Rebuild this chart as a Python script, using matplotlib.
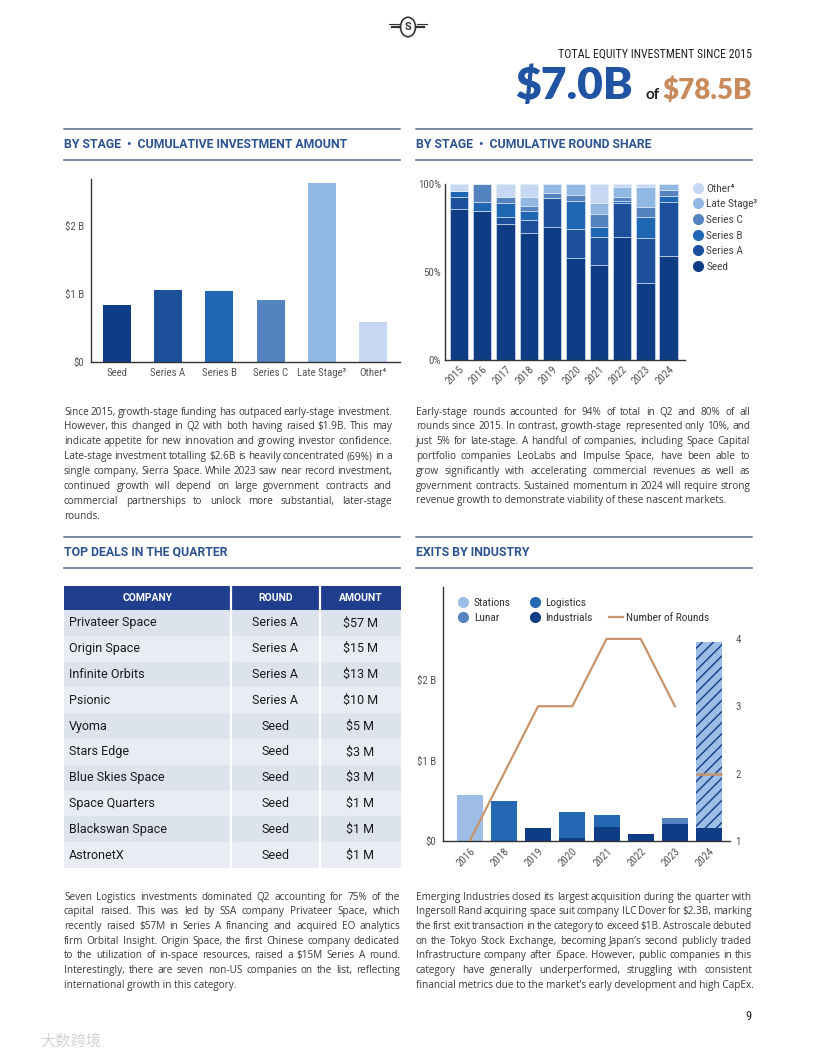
import matplotlib
matplotlib.use('Agg')
import matplotlib.pyplot as plt
from matplotlib.patches import Rectangle, Circle
from matplotlib.lines import Line2D
import numpy as np

W, H = 816, 1056

# --- data ---------------------------------------------------------------
stages = ['Seed', 'Series A', 'Series B', 'Series C', 'Late Stage³', 'Other⁴']
stage_amount = [0.84, 1.06, 1.04, 0.91, 2.62, 0.58]   # $B

years = ['2015', '2016', '2017', '2018', '2019', '2020', '2021', '2022', '2023', '2024']
seed_pct = [85.6, 84.8, 77.3, 72.0, 75.8, 58.1, 54.2, 69.7, 43.9, 59.1]
a_pct = [7.2, 0.0, 3.8, 7.5, 16.3, 16.1, 15.9, 19.3, 25.2, 30.9]
b_pct = [3.4, 5.2, 8.0, 5.3, 0.0, 16.3, 5.7, 1.2, 12.0, 3.2]
c_pct = [0.0, 10.0, 3.4, 2.7, 2.7, 3.2, 7.0, 2.6, 6.0, 3.4]
late_pct = [0.0, 0.0, 0.0, 4.9, 5.3, 6.2, 6.6, 5.7, 11.4, 3.4]
other_pct = [3.8, 0.0, 7.5, 7.6, 0.0, 0.0, 10.6, 1.5, 1.5, 0.0]

companies = ['Privateer Space', 'Origin Space', 'Infinite Orbits', 'Psionic', 'Vyoma',
             'Stars Edge', 'Blue Skies Space', 'Space Quarters', 'Blackswan Space', 'AstronetX']
rounds_name = ['Series A'] * 4 + ['Seed'] * 6
amounts = ['$57 M', '$15 M', '$13 M', '$10 M', '$5 M', '$3 M', '$3 M', '$1 M', '$1 M', '$1 M']

exit_years = ['2016', '2018', '2019', '2020', '2021', '2022', '2023', '2024']
industrials = [0, 0, 0.157, 0.04, 0.178, 0.087, 0.207, 0.157]
logistics = [0, 0.50, 0, 0.315, 0.145, 0, 0, 0]
lunar = [0, 0, 0, 0, 0, 0, 0.074, 0]
stations = [0.57, 0, 0, 0, 0, 0, 0, 2.32]
n_rounds = [1, 2, 3, 3, 4, 4, 3, 2]

# --- style ---------------------------------------------------------------
navy = '#0f3d85'
c_seed, c_a, c_b, c_c, c_late, c_other = navy, '#1c4f9c', '#2067b3', '#5483bf', '#91b7e3', '#c6d8f2'
head_blue = '#2b5392'
rule = '#56698a'
tan = '#c8946b'
body = '#3a3a3a'
cond = ['Roboto Condensed', 'Liberation Sans Narrow', 'DejaVu Sans']
sans = ['Open Sans', 'DejaVu Sans']

plt.rcParams['font.family'] = ['Roboto', 'DejaVu Sans']

fig = plt.figure(figsize=(W / 100, H / 100), dpi=100)


def fx(x):
    return x / W


def fy(y):
    return 1 - y / H


def axes_px(x0, y0, x1, y1):
    return fig.add_axes([fx(x0), fy(y1), (x1 - x0) / W, (y1 - y0) / H])


def section(title, x0, x1, y_text, y_top, y_bot):
    fig.add_artist(Line2D([fx(x0), fx(x1)], [fy(y_top)] * 2, color=rule, lw=1.1))
    fig.add_artist(Line2D([fx(x0), fx(x1)], [fy(y_bot)] * 2, color=rule, lw=1.1))
    fig.text(fx(x0), fy(y_text), title, color=head_blue, fontsize=8.8, weight='bold',
             va='center', ha='left')


def justify(lines, x0, x1, y0, dy, size=7.2):
    # y0 is the centre of the first line; text is set on a shared baseline
    r = fig.canvas.get_renderer()
    for i, line in enumerate(lines):
        y = fy(y0 + i * dy + 3.6)
        if i == len(lines) - 1:
            fig.text(fx(x0), y, line, fontsize=size, color=body, va='baseline', family=sans)
            continue
        words = line.split(' ')
        texts = [fig.text(0, y, w, fontsize=size, color=body, va='baseline', family=sans)
                 for w in words]
        widths = [t.get_window_extent(r).width for t in texts]
        gap = (x1 - x0 - sum(widths)) / (len(words) - 1)
        x = x0
        for t, w in zip(texts, widths):
            t.set_x(fx(x))
            x += w + gap


# --- page header ---------------------------------------------------------
fig.add_artist(Line2D([fx(392), fx(400)], [fy(27)] * 2, color='#333', lw=1.6))
fig.add_artist(Line2D([fx(416), fx(424)], [fy(27)] * 2, color='#333', lw=1.6))
fig.add_artist(Line2D([fx(389), fx(399)], [fy(24)] * 2, color='#333', lw=0.8))
fig.add_artist(Line2D([fx(417), fx(427)], [fy(24)] * 2, color='#333', lw=0.8))
fig.add_artist(Circle((fx(408), fy(27)), 7.5 / W, transform=fig.transFigure,
                      fill=False, ec='#333', lw=1.2))
fig.text(fx(408), fy(27.5), 'S', fontsize=8, weight='bold', ha='center', va='center', color='#333')

fig.text(fx(752), fy(54), 'TOTAL EQUITY INVESTMENT SINCE 2015', fontsize=8.6, ha='right',
         va='center', color='#222', family=cond)
fig.text(fx(633), fy(99), '$7.0B', fontsize=32, weight='heavy', ha='right', va='baseline',
         color='#2054a3', family=['Lato', 'DejaVu Sans'])
fig.text(fx(645), fy(99), 'of', fontsize=11, weight='bold', ha='left', va='baseline',
         color='#222', family=['Lato', 'DejaVu Sans'])
fig.text(fx(752), fy(99), '$78.5B', fontsize=20, weight='heavy', ha='right', va='baseline',
         color='#c98b5b', family=['Lato', 'DejaVu Sans'])

# --- section headers -----------------------------------------------------
section('BY STAGE  •  CUMULATIVE INVESTMENT AMOUNT', 64, 400, 144, 129, 160)
section('BY STAGE  •  CUMULATIVE ROUND SHARE', 416, 752, 144, 129, 160)
section('TOP DEALS IN THE QUARTER', 64, 400, 552, 537, 568)
section('EXITS BY INDUSTRY', 416, 752, 552, 537, 568)


def clean(ax):
    for s in ['top', 'right']:
        ax.spines[s].set_visible(False)
    for s in ['left', 'bottom']:
        ax.spines[s].set_color('#333')
        ax.spines[s].set_linewidth(1)
    ax.tick_params(length=0, labelsize=7.8, labelcolor='#555')
    for lab in ax.get_xticklabels() + ax.get_yticklabels():
        lab.set_family(cond)


# --- chart 1: cumulative investment amount -------------------------------
ax1 = axes_px(91, 179, 400, 362)
x1 = np.arange(len(stages))
ax1.bar(x1, stage_amount, width=0.55,
        color=[c_seed, c_a, c_b, c_c, c_late, c_other])
ax1.set_xlim(-0.5, 5.52)
ax1.set_ylim(0, 2.68)
ax1.set_xticks(x1)
ax1.set_xticklabels(stages)
ax1.set_yticks([0, 1, 2])
ax1.set_yticklabels(['$0', '$1 B', '$2 B'])
clean(ax1)
ax1.tick_params(axis='y', pad=5)
ax1.tick_params(axis='x', pad=4)

# --- chart 2: round share ------------------------------------------------
ax2 = axes_px(445, 184, 685, 360)
x2 = np.arange(len(years))
series = [('Seed', seed_pct, c_seed), ('Series A', a_pct, c_a), ('Series B', b_pct, c_b),
          ('Series C', c_pct, c_c), ('Late Stage³', late_pct, c_late), ('Other⁴', other_pct, c_other)]
bottom = np.zeros(len(years))
handles = []
for name, vals, col in series:
    ax2.bar(x2, vals, bottom=bottom, width=0.79, color=col, edgecolor='#e6eef8', linewidth=0.4)
    bottom += np.array(vals)
    handles.append(Line2D([], [], marker='o', ls='none', color=col, markersize=7, label=name))
ax2.set_xlim(-0.6, 9.7)
ax2.set_ylim(0, 100)
ax2.set_yticks([0, 50, 100])
ax2.set_yticklabels(['0%', '50%', '100%'])
ax2.set_xticks(x2)
ax2.set_xticklabels(years, rotation=45, ha='right', rotation_mode='anchor')
clean(ax2)
ax2.tick_params(axis='y', pad=3)
ax2.tick_params(axis='x', pad=3)
leg = ax2.legend(handles=handles[::-1], loc='upper left', bbox_to_anchor=(fx(687), fy(179)),
                 bbox_transform=fig.transFigure, frameon=False, fontsize=8.2,
                 handletextpad=0.1, labelspacing=0.5, borderaxespad=0, handlelength=1.2)
for t in leg.get_texts():
    t.set_family(cond)
    t.set_color('#444')

# --- table ---------------------------------------------------------------
axt = axes_px(64, 586, 401, 868)
axt.set_xlim(64, 401)
axt.set_ylim(868, 586)
axt.axis('off')
col_edges = [64, 231, 320, 401]
row_h = (868 - 610) / len(companies)
axt.add_patch(Rectangle((64, 586), 337, 24, color='#1f3f8e', lw=0))
for i in range(len(companies)):
    y0 = 610 + i * row_h
    axt.add_patch(Rectangle((64, y0), 337, row_h, lw=0,
                            color='#dce3ed' if i % 2 == 0 else '#e9edf3'))
    axt.text(69, y0 + row_h / 2, companies[i], fontsize=9, va='center', ha='left', color='#1a1a1a')
    axt.text(275.5, y0 + row_h / 2, rounds_name[i], fontsize=9, va='center', ha='center', color='#1a1a1a')
    axt.text(360.5, y0 + row_h / 2, amounts[i], fontsize=9, va='center', ha='center', color='#1a1a1a')
for xe in col_edges[1:-1]:
    axt.plot([xe, xe], [586, 868], color='white', lw=1.6)
for label, xc in zip(['COMPANY', 'ROUND', 'AMOUNT'], [147.5, 275.5, 360.5]):
    axt.text(xc, 598, label, fontsize=7.5, weight='bold', color='white', ha='center', va='center')

# --- chart 3: exits by industry ------------------------------------------
ax3 = axes_px(443, 587, 730, 841)
x3 = np.arange(len(exit_years))
bottom = np.zeros(len(exit_years))
ex_series = [('Industrials', industrials, navy), ('Logistics', logistics, '#2467b3'),
             ('Lunar', lunar, c_c), ('Stations', stations, '#9dbde6')]
for name, vals, col in ex_series:
    bars = ax3.bar(x3, vals, bottom=bottom, width=0.76, color=col, linewidth=0)
    bottom += np.array(vals)
    last = bars.patches[-1]
    last.set_hatch('///')
    last.set_edgecolor(navy)
    last.set_linewidth(0)
ax3.set_xlim(-0.78, 7.61)
ax3.set_ylim(0, 3.16)
ax3.set_yticks([0, 1, 2])
ax3.set_yticklabels(['$0', '$1 B', '$2 B'])
ax3.set_xticks(x3)
ax3.set_xticklabels(exit_years, rotation=45, ha='right', rotation_mode='anchor')
clean(ax3)
ax3.tick_params(axis='y', pad=5)

ax3b = ax3.twinx()
ax3b.plot(x3[:7], n_rounds[:7], color=tan, lw=1.6)
ax3b.plot(x3[7], n_rounds[7], marker='_', markersize=19, markeredgewidth=1.8, color=tan)
ax3b.set_ylim(1, 4.77)
ax3b.set_yticks([1, 2, 3, 4])
for s in ['top', 'right', 'left', 'bottom']:
    ax3b.spines[s].set_visible(False)
ax3b.tick_params(length=0, labelsize=7.8, labelcolor='#555', pad=4)
for lab in ax3b.get_yticklabels():
    lab.set_family(cond)

ex_handles = [
    Line2D([], [], marker='o', ls='none', color='#9dbde6', markersize=7, label='Stations'),
    Line2D([], [], marker='o', ls='none', color=c_c, markersize=7, label='Lunar'),
    Line2D([], [], marker='o', ls='none', color='#2467b3', markersize=7, label='Logistics'),
    Line2D([], [], marker='o', ls='none', color=navy, markersize=7, label='Industrials'),
    Line2D([], [], ls='none', label=' '),
    Line2D([], [], color=tan, lw=1.6, label='Number of Rounds'),
]
leg3 = ax3.legend(handles=ex_handles, ncol=3, loc='upper left',
                  bbox_to_anchor=(fx(452), fy(593)), bbox_transform=fig.transFigure,
                  frameon=False, fontsize=8.2, handletextpad=0.3, labelspacing=0.45,
                  columnspacing=1.5, borderaxespad=0, handlelength=1.2)
for t in leg3.get_texts():
    t.set_family(cond)
    t.set_color('#333')

# --- body text -----------------------------------------------------------
p1 = ["Since 2015, growth-stage funding has outpaced early-stage investment.",
      "However, this changed in Q2 with both having raised $1.9B. This may",
      "indicate appetite for new innovation and growing investor confidence.",
      "Late-stage investment totalling $2.6B is heavily concentrated (69%) in a",
      "single company, Sierra Space. While 2023 saw near record investment,",
      "continued growth will depend on large government contracts and",
      "commercial partnerships to unlock more substantial, later-stage",
      "rounds."]
p2 = ["Early-stage rounds accounted for 94% of total in Q2 and 80% of all",
      "rounds since 2015. In contrast, growth-stage represented only 10%, and",
      "just 5% for late-stage. A handful of companies, including Space Capital",
      "portfolio companies LeoLabs and Impulse Space, have been able to",
      "grow significantly with accelerating commercial revenues as well as",
      "government contracts. Sustained momentum in 2024 will require strong",
      "revenue growth to demonstrate viability of these nascent markets."]
p3 = ["Seven Logistics investments dominated Q2 accounting for 75% of the",
      "capital raised. This was led by SSA company Privateer Space, which",
      "recently raised $57M in Series A financing and acquired EO analytics",
      "firm Orbital Insight. Origin Space, the first Chinese company dedicated",
      "to the utilization of in-space resources, raised a $15M Series A round.",
      "Interestingly, there are seven non-US companies on the list, reflecting",
      "international growth in this category."]
p4 = ["Emerging Industries closed its largest acquisition during the quarter with",
      "Ingersoll Rand acquiring space suit company ILC Dover for $2.3B, marking",
      "the first exit transaction in the category to exceed $1B. Astroscale debuted",
      "on the Tokyo Stock Exchange, becoming Japan’s second publicly traded",
      "Infrastructure company after iSpace. However, public companies in this",
      "category have generally underperformed, struggling with consistent",
      "financial metrics due to the market’s early development and high CapEx."]
justify(p1, 64, 392, 411, 14.86)
justify(p2, 416, 750, 411, 14.8)
justify(p3, 64, 400, 896, 14.7)
justify(p4, 416, 752, 896, 14.7)

# --- footer --------------------------------------------------------------
fig.text(fx(748), fy(1016), '9', fontsize=9, ha='center', va='center', color='#222', family=cond)
fig.text(fx(40), fy(1041), '大数跨境', fontsize=11, ha='left', va='center', color='#d4d4d4',
         family=['Noto Sans CJK SC', 'DejaVu Sans'])

fig.savefig('out.png', dpi=100, facecolor='white')
